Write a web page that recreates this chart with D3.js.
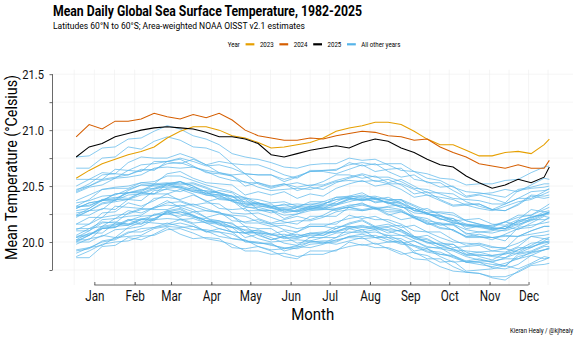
<!DOCTYPE html>
<html>
<head>
<meta charset="utf-8">
<script src="https://cdn.jsdelivr.net/npm/d3@7"></script>
<style>
  body { margin: 0; background: #fff; }
  text { font-family: Roboto, "Noto Sans", sans-serif; }
</style>
</head>
<body>
<svg id="chart" width="578" height="337"></svg>
<script>
// Day of year for each stored reading (every 10 days, plus Dec 31)
const sampleDays = [1, 11, 21, 31, 41, 51, 61, 71, 81, 91, 101, 111, 121, 131, 141, 151, 161, 171, 181,
  191, 201, 211, 221, 231, 241, 251, 261, 271, 281, 291, 301, 311, 321, 331, 341, 351, 361, 365];

// Month labels sit on the 15th of each month
const monthTickDays = [15, 46, 74, 105, 135, 166, 196, 227, 258, 288, 319, 349];
const monthLabels = ['Jan', 'Feb', 'Mar', 'Apr', 'May', 'Jun', 'Jul', 'Aug', 'Sep', 'Oct', 'Nov', 'Dec'];

const tempTicks = [19.75, 20.0, 20.25, 20.5, 20.75, 21.0, 21.25, 21.5];
const tempLabels = [20.0, 20.5, 21.0, 21.5];

const otherYears = [1982, 1983, 1984, 1985, 1986, 1987, 1988, 1989, 1990, 1991, 1992, 1993, 1994, 1995,
  1996, 1997, 1998, 1999, 2000, 2001, 2002, 2003, 2004, 2005, 2006, 2007, 2008, 2009, 2010, 2011,
  2012, 2013, 2014, 2015, 2016, 2017, 2018, 2019, 2020, 2021, 2022];

// Mean SST (deg C) on each sample day, one row per year in otherYears
const otherTemps = [
  [19.90,19.95,19.97,20.04,20.05,20.06,20.12,20.14,20.13,20.14,20.10,20.05,20.03,20.02,19.96,19.93,19.94,19.96,19.95,19.98,20.02,20.04,20.03,20.04,20.00,20.00,19.96,19.91,19.89,19.87,19.82,19.80,19.78,19.81,19.85,19.88,19.93,19.95],
  [20.00,20.00,20.06,20.04,20.13,20.18,20.17,20.16,20.20,20.16,20.09,20.12,20.09,20.00,19.99,19.99,19.92,19.95,20.00,20.00,19.98,20.01,20.04,19.98,20.00,20.01,19.90,19.88,19.82,19.83,19.74,19.75,19.76,19.79,19.76,19.81,19.87,19.86],
  [19.87,19.92,19.98,20.00,20.01,20.05,20.06,20.11,20.12,20.08,20.03,20.01,19.98,19.92,19.92,19.89,19.90,19.87,19.89,19.89,19.93,19.96,19.98,19.95,19.95,19.91,19.85,19.84,19.78,19.74,19.73,19.72,19.69,19.69,19.73,19.79,19.80,19.81],
  [19.86,19.86,19.96,19.97,20.04,20.02,20.07,20.13,20.07,20.03,20.04,20.03,19.95,19.94,19.96,19.92,19.87,19.85,19.92,19.92,19.92,20.00,19.97,19.99,19.94,19.89,19.91,19.85,19.85,19.78,19.73,19.72,19.68,19.66,19.74,19.80,19.84,19.86],
  [19.93,19.95,20.00,20.02,20.08,20.12,20.13,20.15,20.17,20.14,20.09,20.09,20.07,20.01,19.99,19.98,19.94,19.97,20.00,20.01,20.01,20.05,20.07,20.04,20.04,20.03,19.97,19.94,19.89,19.88,19.82,19.83,19.83,19.85,19.85,19.91,19.96,19.96],
  [20.02,20.08,20.08,20.17,20.16,20.16,20.25,20.25,20.23,20.27,20.22,20.15,20.13,20.14,20.06,20.02,20.05,20.07,20.04,20.08,20.14,20.14,20.11,20.13,20.08,20.11,20.05,19.99,19.99,19.98,19.91,19.87,19.84,19.90,19.95,19.95,20.01,20.04],
  [20.04,20.10,20.17,20.18,20.16,20.21,20.20,20.27,20.29,20.23,20.17,20.16,20.13,20.04,20.07,20.02,20.05,19.99,20.01,19.99,20.04,20.08,20.11,20.04,20.06,20.01,19.92,19.94,19.87,19.82,19.83,19.82,19.77,19.76,19.80,19.88,19.85,19.86],
  [19.92,19.94,20.01,20.03,20.09,20.09,20.13,20.17,20.14,20.11,20.11,20.09,20.03,20.01,20.00,19.97,19.95,19.94,19.98,19.99,20.00,20.05,20.05,20.06,20.02,19.98,19.97,19.92,19.91,19.86,19.82,19.82,19.80,19.79,19.87,19.90,19.93,19.94],
  [20.01,20.06,20.12,20.14,20.15,20.20,20.21,20.26,20.27,20.23,20.19,20.17,20.14,20.08,20.09,20.06,20.07,20.04,20.06,20.06,20.10,20.13,20.15,20.12,20.13,20.09,20.03,20.02,19.97,19.93,19.92,19.91,19.88,19.89,19.93,19.99,20.00,20.01],
  [20.05,20.07,20.12,20.13,20.19,20.23,20.24,20.25,20.27,20.24,20.19,20.19,20.16,20.10,20.08,20.07,20.03,20.05,20.08,20.09,20.09,20.12,20.14,20.11,20.11,20.10,20.03,20.00,19.95,19.94,19.88,19.88,19.88,19.90,19.90,19.95,20.00,20.00],
  [20.02,20.02,20.12,20.13,20.20,20.16,20.21,20.27,20.21,20.17,20.18,20.17,20.09,20.08,20.08,20.04,19.99,19.97,20.04,20.04,20.04,20.12,20.09,20.11,20.04,19.99,20.01,19.95,19.95,19.88,19.83,19.85,19.82,19.78,19.89,19.91,19.93,19.94],
  [19.98,20.03,20.05,20.11,20.12,20.14,20.20,20.21,20.20,20.21,20.17,20.12,20.09,20.08,20.03,20.00,20.01,20.02,20.01,20.04,20.08,20.09,20.08,20.09,20.06,20.06,20.01,19.96,19.94,19.92,19.87,19.84,19.82,19.86,19.90,19.92,19.97,19.99],
  [20.00,20.06,20.14,20.16,20.15,20.20,20.19,20.28,20.30,20.24,20.19,20.18,20.17,20.08,20.11,20.07,20.10,20.05,20.08,20.06,20.12,20.17,20.20,20.14,20.16,20.11,20.04,20.06,20.00,19.95,19.96,19.97,19.92,19.91,19.96,20.05,20.03,20.04],
  [20.12,20.12,20.18,20.17,20.26,20.30,20.29,20.29,20.33,20.29,20.22,20.25,20.23,20.14,20.12,20.12,20.05,20.09,20.14,20.14,20.12,20.16,20.19,20.13,20.14,20.15,20.05,20.03,19.97,19.98,19.89,19.91,19.92,19.94,19.91,19.97,20.03,20.02],
  [20.04,20.06,20.13,20.15,20.20,20.20,20.24,20.28,20.25,20.22,20.21,20.19,20.13,20.11,20.10,20.07,20.04,20.03,20.07,20.08,20.09,20.14,20.13,20.14,20.10,20.06,20.05,20.00,19.98,19.93,19.89,19.89,19.87,19.86,19.93,19.96,19.99,20.00],
  [20.06,20.12,20.14,20.21,20.23,20.24,20.31,20.33,20.32,20.34,20.30,20.26,20.24,20.23,20.18,20.16,20.17,20.19,20.19,20.22,20.27,20.29,20.28,20.30,20.27,20.27,20.23,20.19,20.17,20.16,20.11,20.09,20.08,20.11,20.16,20.19,20.24,20.27],
  [20.35,20.37,20.41,20.42,20.47,20.51,20.51,20.52,20.54,20.50,20.45,20.44,20.41,20.34,20.32,20.31,20.26,20.28,20.30,20.31,20.30,20.33,20.34,20.31,20.31,20.29,20.22,20.18,20.13,20.11,20.05,20.05,20.04,20.06,20.05,20.10,20.14,20.14],
  [20.11,20.16,20.22,20.24,20.25,20.29,20.30,20.35,20.36,20.32,20.28,20.26,20.23,20.17,20.17,20.14,20.15,20.12,20.14,20.14,20.18,20.21,20.23,20.20,20.20,20.16,20.10,20.09,20.04,20.00,19.99,19.98,19.95,19.95,19.99,20.05,20.06,20.07],
  [20.10,20.10,20.20,20.21,20.28,20.26,20.31,20.37,20.31,20.27,20.28,20.27,20.19,20.18,20.20,20.16,20.11,20.09,20.16,20.16,20.16,20.24,20.21,20.23,20.18,20.13,20.15,20.09,20.09,20.02,19.97,19.99,19.96,19.94,20.05,20.07,20.09,20.10],
  [20.16,20.22,20.22,20.32,20.31,20.30,20.39,20.40,20.38,20.42,20.37,20.30,20.29,20.30,20.21,20.17,20.20,20.23,20.20,20.24,20.30,20.31,20.28,20.30,20.24,20.27,20.22,20.16,20.16,20.15,20.08,20.05,20.02,20.07,20.12,20.13,20.19,20.22],
  [20.23,20.28,20.34,20.36,20.38,20.42,20.43,20.48,20.49,20.45,20.42,20.40,20.37,20.31,20.31,20.28,20.30,20.27,20.29,20.29,20.33,20.36,20.39,20.36,20.36,20.32,20.26,20.25,20.21,20.17,20.16,20.15,20.12,20.12,20.17,20.23,20.24,20.25],
  [20.32,20.32,20.38,20.37,20.46,20.51,20.50,20.50,20.54,20.50,20.43,20.46,20.44,20.35,20.34,20.34,20.27,20.31,20.36,20.36,20.34,20.38,20.41,20.35,20.37,20.38,20.28,20.26,20.20,20.21,20.12,20.14,20.15,20.18,20.15,20.21,20.27,20.26],
  [20.28,20.30,20.37,20.39,20.44,20.44,20.48,20.52,20.49,20.46,20.46,20.44,20.38,20.36,20.35,20.32,20.29,20.28,20.32,20.33,20.34,20.39,20.38,20.39,20.35,20.31,20.30,20.25,20.24,20.19,20.15,20.15,20.13,20.12,20.19,20.22,20.25,20.26],
  [20.30,20.35,20.37,20.43,20.44,20.45,20.51,20.52,20.51,20.52,20.48,20.43,20.40,20.39,20.33,20.30,20.31,20.32,20.31,20.34,20.38,20.39,20.38,20.39,20.35,20.35,20.30,20.25,20.23,20.21,20.16,20.13,20.11,20.14,20.18,20.20,20.25,20.27],
  [20.24,20.30,20.38,20.40,20.39,20.44,20.43,20.52,20.54,20.48,20.43,20.42,20.41,20.32,20.35,20.31,20.34,20.29,20.32,20.30,20.36,20.41,20.44,20.38,20.40,20.35,20.28,20.30,20.24,20.19,20.20,20.21,20.16,20.15,20.20,20.29,20.27,20.28],
  [20.31,20.33,20.37,20.38,20.44,20.47,20.48,20.49,20.50,20.47,20.42,20.41,20.38,20.32,20.29,20.28,20.24,20.25,20.28,20.29,20.29,20.31,20.33,20.30,20.29,20.28,20.21,20.17,20.12,20.11,20.04,20.04,20.04,20.05,20.05,20.10,20.14,20.14],
  [20.16,20.16,20.26,20.27,20.35,20.32,20.37,20.43,20.37,20.33,20.35,20.34,20.26,20.25,20.26,20.22,20.18,20.16,20.23,20.23,20.23,20.31,20.29,20.31,20.25,20.20,20.22,20.16,20.17,20.10,20.05,20.07,20.04,20.01,20.13,20.15,20.17,20.18],
  [20.22,20.28,20.29,20.38,20.38,20.37,20.46,20.47,20.45,20.49,20.45,20.38,20.37,20.38,20.29,20.26,20.29,20.31,20.29,20.33,20.40,20.40,20.37,20.40,20.34,20.37,20.32,20.26,20.27,20.26,20.19,20.16,20.13,20.18,20.24,20.24,20.31,20.34],
  [20.37,20.42,20.47,20.49,20.50,20.53,20.54,20.59,20.59,20.55,20.51,20.48,20.45,20.39,20.38,20.35,20.36,20.32,20.34,20.34,20.38,20.40,20.42,20.39,20.38,20.34,20.28,20.26,20.21,20.17,20.15,20.14,20.11,20.10,20.14,20.20,20.20,20.21],
  [20.24,20.24,20.30,20.29,20.38,20.44,20.43,20.43,20.47,20.43,20.36,20.39,20.37,20.28,20.28,20.28,20.21,20.25,20.30,20.30,20.28,20.32,20.35,20.29,20.32,20.33,20.23,20.21,20.15,20.16,20.07,20.09,20.10,20.14,20.11,20.17,20.23,20.22],
  [20.26,20.28,20.35,20.37,20.42,20.43,20.47,20.51,20.48,20.45,20.44,20.42,20.36,20.34,20.34,20.31,20.28,20.27,20.31,20.32,20.33,20.38,20.37,20.38,20.35,20.31,20.30,20.25,20.23,20.18,20.14,20.14,20.12,20.12,20.19,20.22,20.25,20.26],
  [20.30,20.35,20.37,20.43,20.44,20.46,20.52,20.53,20.52,20.53,20.49,20.44,20.41,20.40,20.35,20.32,20.33,20.34,20.33,20.36,20.40,20.41,20.40,20.41,20.38,20.38,20.33,20.28,20.26,20.24,20.19,20.16,20.14,20.18,20.22,20.24,20.29,20.31],
  [20.32,20.38,20.47,20.48,20.48,20.53,20.52,20.61,20.63,20.57,20.53,20.52,20.51,20.42,20.45,20.42,20.45,20.39,20.43,20.41,20.48,20.52,20.55,20.50,20.52,20.47,20.40,20.42,20.37,20.32,20.33,20.34,20.29,20.28,20.34,20.42,20.41,20.42],
  [20.47,20.50,20.55,20.57,20.64,20.69,20.70,20.72,20.75,20.72,20.68,20.69,20.66,20.61,20.60,20.60,20.56,20.59,20.63,20.64,20.65,20.69,20.71,20.69,20.70,20.70,20.63,20.61,20.57,20.56,20.51,20.52,20.52,20.55,20.56,20.62,20.67,20.68],
  [20.76,20.77,20.84,20.85,20.92,20.93,20.99,21.04,21.01,20.95,20.92,20.87,20.79,20.76,20.74,20.71,20.67,20.66,20.69,20.70,20.70,20.75,20.73,20.74,20.69,20.64,20.63,20.57,20.55,20.49,20.45,20.44,20.42,20.40,20.47,20.49,20.52,20.52],
  [20.50,20.56,20.56,20.65,20.64,20.63,20.72,20.72,20.70,20.74,20.69,20.62,20.60,20.61,20.52,20.48,20.51,20.53,20.50,20.54,20.60,20.60,20.57,20.59,20.53,20.56,20.50,20.44,20.44,20.43,20.36,20.32,20.29,20.34,20.39,20.39,20.45,20.48],
  [20.45,20.50,20.56,20.58,20.60,20.64,20.65,20.70,20.71,20.67,20.64,20.62,20.59,20.53,20.53,20.50,20.52,20.49,20.51,20.51,20.55,20.58,20.61,20.58,20.58,20.54,20.48,20.47,20.43,20.39,20.38,20.37,20.34,20.34,20.39,20.45,20.46,20.47],
  [20.56,20.56,20.62,20.61,20.71,20.76,20.75,20.75,20.79,20.75,20.69,20.72,20.70,20.61,20.60,20.60,20.54,20.58,20.63,20.63,20.61,20.65,20.69,20.63,20.65,20.66,20.56,20.54,20.49,20.50,20.41,20.43,20.44,20.47,20.45,20.51,20.57,20.56],
  [20.66,20.66,20.75,20.76,20.85,20.83,20.90,20.94,20.91,20.85,20.84,20.80,20.70,20.69,20.69,20.65,20.60,20.57,20.64,20.64,20.64,20.71,20.68,20.70,20.63,20.58,20.60,20.53,20.53,20.46,20.40,20.42,20.39,20.35,20.46,20.48,20.49,20.50],
  [20.44,20.49,20.51,20.57,20.58,20.60,20.66,20.67,20.66,20.67,20.63,20.58,20.55,20.54,20.49,20.46,20.47,20.48,20.47,20.50,20.54,20.55,20.54,20.55,20.52,20.52,20.47,20.42,20.40,20.38,20.33,20.30,20.28,20.32,20.36,20.38,20.43,20.45],
  [20.46,20.52,20.60,20.61,20.60,20.65,20.64,20.72,20.74,20.68,20.62,20.61,20.59,20.50,20.53,20.49,20.52,20.46,20.49,20.47,20.53,20.57,20.60,20.54,20.56,20.51,20.43,20.45,20.38,20.33,20.34,20.34,20.29,20.28,20.33,20.41,20.39,20.40]
];

const temps2023 = [20.57,20.64,20.70,20.74,20.78,20.81,20.85,20.93,20.99,21.03,21.03,21.00,20.95,20.93,20.89,20.84,20.85,20.87,20.89,20.93,20.99,21.02,21.04,21.07,21.07,21.05,20.99,20.92,20.87,20.87,20.82,20.77,20.77,20.80,20.81,20.79,20.87,20.92];
const temps2024 = [20.94,21.05,21.01,21.08,21.08,21.10,21.15,21.12,21.10,21.14,21.11,21.15,21.09,21.00,20.95,20.93,20.91,20.91,20.93,20.92,20.95,20.97,20.99,20.98,20.95,20.94,20.91,20.92,20.85,20.80,20.76,20.70,20.68,20.66,20.69,20.66,20.66,20.73];
const temps2025 = [20.76,20.85,20.88,20.94,20.97,21.00,21.02,21.03,21.02,21.01,20.98,20.94,20.94,20.92,20.88,20.78,20.76,20.79,20.82,20.84,20.86,20.84,20.89,20.92,20.90,20.84,20.80,20.74,20.69,20.67,20.59,20.53,20.48,20.51,20.56,20.53,20.58,20.67];

const legendLabels = ['2023', '2024', '2025', 'All other years'];
const legendColors = ['#E69F00', '#D55E00', '#000000', '#56B4E9'];

const svg = d3.select('#chart');
const panel = {l: 52.5, r: 573, t: 69.7, b: 285};

const x = d3.scaleLinear().domain([1 - 18.2, 365 + 18.2]).range([panel.l, panel.r]);
const y = d3.scaleLinear().domain([19.616, 21.54]).range([panel.b, panel.t]);

// the type is a condensed face: squeeze each text to the wanted width
function fitWidth(sel, w) {
  sel.attr('textLength', w).attr('lengthAdjust', 'spacingAndGlyphs');
}
function squeeze(sel, f) {
  sel.each(function() {
    var w = this.getComputedTextLength();
    d3.select(this).attr('textLength', w * f).attr('lengthAdjust', 'spacingAndGlyphs');
  });
}

// faint grid, major and minor
const gridG = svg.append('g').attr('stroke', '#efefef').attr('stroke-width', 0.6);
gridG.selectAll('.hgrid').data(tempTicks).enter().append('line')
  .attr('x1', panel.l).attr('x2', panel.r)
  .attr('y1', d => y(d)).attr('y2', d => y(d));

var minorDays = [monthTickDays[0] - (monthTickDays[1] - monthTickDays[0]) / 2];
for (var i = 0; i < monthTickDays.length - 1; i++) {
  minorDays.push((monthTickDays[i] + monthTickDays[i + 1]) / 2);
}
minorDays.push(monthTickDays[11] + (monthTickDays[11] - monthTickDays[10]) / 2);
gridG.selectAll('.vgrid').data(monthTickDays.concat(minorDays)).enter().append('line')
  .attr('x1', d => x(d)).attr('x2', d => x(d))
  .attr('y1', panel.t).attr('y2', panel.b);

const line = d3.line()
  .x((d, i) => x(sampleDays[i]))
  .y(d => y(d));

const linesG = svg.append('g').attr('fill', 'none');
linesG.selectAll('.other').data(otherTemps).enter().append('path')
  .attr('class', 'other')
  .attr('d', line)
  .attr('stroke', legendColors[3])
  .attr('stroke-width', 0.7);

[temps2023, temps2024, temps2025].forEach(function(vals, k) {
  linesG.append('path')
    .attr('d', line(vals))
    .attr('stroke', legendColors[k])
    .attr('stroke-width', 1.05);
});

// axes, capped at the outer breaks
const axisColor = '#444';
const xAxisG = svg.append('g').attr('transform', 'translate(0,' + panel.b + ')');
xAxisG.call(d3.axisBottom(x).tickValues(monthTickDays).tickSize(-3)
  .tickFormat((d, i) => monthLabels[i]));
xAxisG.select('.domain').remove();
xAxisG.append('line')
  .attr('x1', x(monthTickDays[0])).attr('x2', x(monthTickDays[11]))
  .attr('stroke', axisColor).attr('stroke-width', 0.8);
xAxisG.selectAll('.tick line').attr('stroke', axisColor).attr('stroke-width', 0.8);
const xLabels = xAxisG.selectAll('.tick text')
  .attr('y', 15.5).attr('dy', 0)
  .style('font-family', 'Roboto, sans-serif')
  .style('font-size', '14px').attr('fill', '#111');
const janWidth = xLabels.filter((d, i) => i === 0).node().getComputedTextLength();
squeeze(xLabels, 19.3 / janWidth);

const yAxisG = svg.append('g').attr('transform', 'translate(' + panel.l + ',0)');
yAxisG.call(d3.axisLeft(y).tickValues(tempTicks).tickSize(3)
  .tickFormat(d => tempLabels.indexOf(d) >= 0 ? d3.format('.1f')(d) : ''));
yAxisG.select('.domain').remove();
yAxisG.append('line')
  .attr('y1', y(tempTicks[tempTicks.length - 1])).attr('y2', y(tempTicks[0]))
  .attr('stroke', axisColor).attr('stroke-width', 0.8);
yAxisG.selectAll('.tick line').attr('stroke', axisColor).attr('stroke-width', 0.8);
const yLabels = yAxisG.selectAll('.tick text')
  .filter(d => tempLabels.indexOf(d) >= 0)
  .attr('x', -8.5)
  .style('font-family', 'Roboto, sans-serif')
  .style('font-size', '13.2px').attr('fill', '#111');
yLabels.each(function() { fitWidth(d3.select(this), 21.7); });

// axis titles
svg.append('text')
  .attr('x', (panel.l + panel.r) / 2).attr('y', 319.5)
  .attr('text-anchor', 'middle')
  .style('font-size', '16.5px')
  .text('Month')
  .call(fitWidth, 43);

svg.append('text')
  .attr('transform', 'translate(17,167.5) rotate(-90)')
  .attr('text-anchor', 'middle')
  .style('font-size', '17px')
  .text('Mean Temperature (°Celsius)')
  .call(fitWidth, 185);

// title block
svg.append('text')
  .attr('x', 53).attr('y', 15.5)
  .style('font-size', '14.2px').style('font-weight', 'bold')
  .text('Mean Daily Global Sea Surface Temperature, 1982-2025')
  .call(fitWidth, 309);

svg.append('text')
  .attr('x', 53).attr('y', 29)
  .style('font-size', '9.6px')
  .text('Latitudes 60°N to 60°S; Area-weighted NOAA OISST v2.1 estimates')
  .call(fitWidth, 252);

// legend
const legendG = svg.append('g').style('font-size', '7.3px');
const ly = 44.3;
var lx = 227.7;
var yearText = legendG.append('text').attr('x', lx).attr('y', ly + 2.5).text('Year');
var legendSqueeze = 39 / (function() {
  var probe = legendG.append('text').text(legendLabels[3]);
  var w = probe.node().getComputedTextLength();
  probe.remove();
  return w;
})();
squeeze(yearText, legendSqueeze);
lx += +yearText.attr('textLength') + 5.7;
legendLabels.forEach(function(lab, k) {
  legendG.append('line')
    .attr('x1', lx).attr('x2', lx + 8.8)
    .attr('y1', ly).attr('y2', ly)
    .attr('stroke', legendColors[k]).attr('stroke-width', 2.2);
  lx += 8.8 + 5.5;
  var t = legendG.append('text').attr('x', lx).attr('y', ly + 2.5).text(lab);
  squeeze(t, legendSqueeze);
  lx += +t.attr('textLength') + 5.7;
});

// credit line, sized to sit inside the right margin
svg.append('text')
  .attr('x', 510).attr('y', 332.5)
  .style('font-size', '6.4px')
  .text('Kieran Healy / @kjhealy')
  .call(fitWidth, 63);
</script>
</body>
</html>
